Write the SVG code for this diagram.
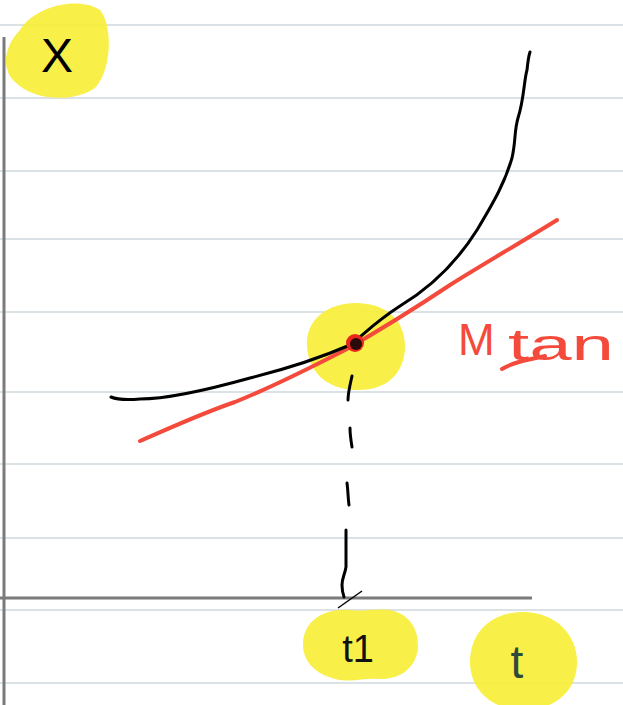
<svg xmlns="http://www.w3.org/2000/svg" width="623" height="705" viewBox="0 0 623 705">
<style>
.rule{stroke:#cfd8dc;stroke-width:1.5}
.axis{stroke:#7b7b7b;stroke-width:3;fill:none}
.hl{fill:#f7ef3a;opacity:0.92}
.ink{stroke:#000;stroke-width:3;fill:none;stroke-linecap:round;stroke-linejoin:round}
.red{stroke:#f44a3c;stroke-width:4;fill:none;stroke-linecap:round;stroke-linejoin:round}
.lbl{font-family:"Liberation Sans",Arial,sans-serif}
</style>
<rect width="623" height="705" fill="#fff"/>
<g id="ruled-lines">
<line class="rule" x1="0" y1="25" x2="623" y2="25"/>
<line class="rule" x1="0" y1="98" x2="623" y2="98"/>
<line class="rule" x1="0" y1="171" x2="623" y2="171"/>
<line class="rule" x1="0" y1="239" x2="623" y2="239"/>
<line class="rule" x1="0" y1="312" x2="623" y2="312"/>
<line class="rule" x1="0" y1="392" x2="623" y2="392"/>
<line class="rule" x1="0" y1="464" x2="623" y2="464"/>
<line class="rule" x1="0" y1="538" x2="623" y2="538"/>
<line class="rule" x1="0" y1="610" x2="623" y2="610"/>
<line class="rule" x1="0" y1="683" x2="623" y2="683"/>
</g>
<g id="highlights">
<path class="hl" d="M20,30 C35,5 80,-4 100,10 C113,25 112,70 95,88 C75,102 35,102 15,82 C0,68 5,45 20,30 Z"/>
<path class="hl" d="M307,347 C305,318 330,302 358,303 C388,304 406,322 405,348 C404,375 385,391 356,390 C326,389 309,372 307,347 Z"/>
<path class="hl" d="M303,645 C303,620 325,608 350,610 C365,612 372,608 390,610 C410,614 419,630 418,648 C416,668 400,680 378,679 C365,678 355,682 340,680 C318,676 303,663 303,645 Z"/>
<path class="hl" d="M470,662 C470,632 492,612 523,612 C555,612 577,634 577,662 C577,690 556,710 523,710 C492,710 470,690 470,662 Z"/>
</g>
<g id="axes">
<line class="axis" x1="4" y1="37" x2="4" y2="705"/>
<line class="axis" x1="0" y1="598" x2="532" y2="598"/>
</g>
<g id="connectors">
<path class="red" d="M140,441 C170,428 200,414 235,402 C270,388 310,368 345,350 C380,330 420,305 450,285 C480,266 520,243 557,220"/>
<path class="ink" d="M111,397 C118,400 128,400 140,399 C165,399 200,392 250,378 C290,368 320,358 350,345 C362,336 375,322 400,306 C430,288 455,265 477,230 C495,200 505,182 512,158 C516,140 514,132 518,118 C524,100 524,80 527,70 C528,60 529,55 530,52"/>
<g id="dashed-drop">
<path class="ink" d="M352,376 C350,385 348,393 348,400"/>
<path class="ink" d="M350,428 C350,435 351,441 352,447"/>
<path class="ink" d="M347,483 C348,490 348,498 349,505"/>
<path class="ink" d="M346,530 C346,545 346,558 346,567 C345,574 342,578 342,585 C342,590 343,594 344,597"/>
<path d="M338,608 L362,591" stroke="#000" stroke-width="1.5" fill="none"/>
</g>
</g>
<g id="point">
<circle cx="355" cy="343" r="9" fill="#e8271c"/>
<circle cx="356" cy="344" r="6" fill="#2a0a0a"/>
</g>
<g id="label-x">
<text class="lbl" x="57" y="72" font-size="48" text-anchor="middle" fill="#000">X</text>
</g>
<g id="label-mtan">
<text class="lbl" x="458" y="355" font-size="44" fill="#f44a3c">M</text>
<text class="lbl" x="508" y="360" font-size="44" textLength="106" lengthAdjust="spacingAndGlyphs" fill="#f44a3c">tan</text>
<path class="red" d="M502,369 C512,363 525,360 545,356" stroke-width="3"/>
</g>
<g id="label-t1">
<text class="lbl" x="358" y="662" font-size="38" text-anchor="middle" fill="#111">t1</text>
</g>
<g id="label-t">
<text class="lbl" x="517" y="678" font-size="46" text-anchor="middle" fill="#2d4a3a">t</text>
</g>
</svg>
